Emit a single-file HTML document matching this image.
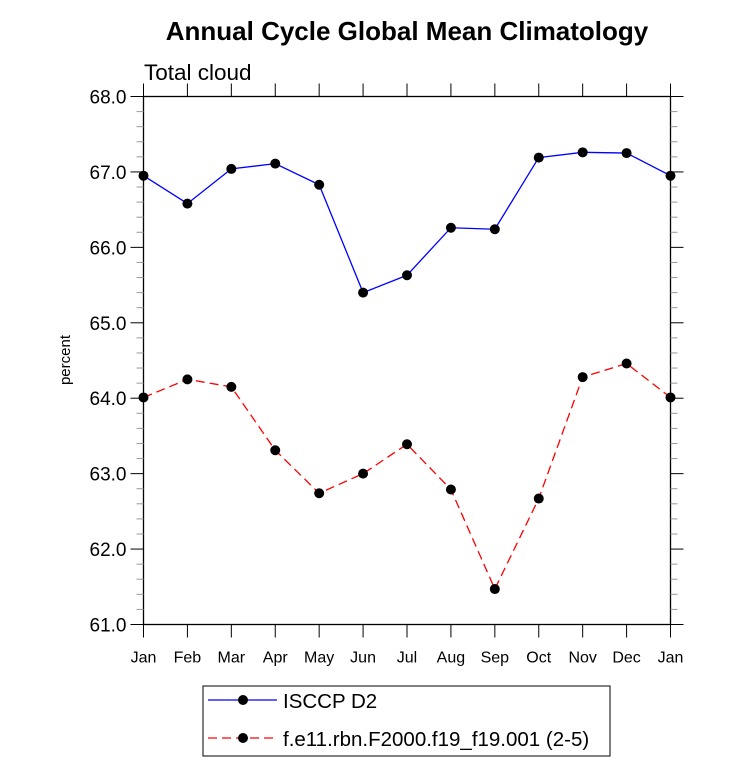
<!DOCTYPE html>
<html><head><style>
body{margin:0;background:#fff;}
svg text{font-family:"Liberation Sans",sans-serif;}
</style></head><body>
<svg id="chart" width="733" height="777" xmlns="http://www.w3.org/2000/svg">
<text x="407" y="40" font-size="26" font-weight="bold" text-anchor="middle">Annual Cycle Global Mean Climatology</text>
<text x="144" y="80" font-size="22.5">Total cloud</text>
<text x="70" y="360" font-size="15" text-anchor="middle" transform="rotate(-90 70 360)">percent</text>
<g id="axes"></g>
<g id="series"></g>
<rect x="203" y="686" width="407" height="70" fill="none" stroke="#000" stroke-width="1"/>
<line x1="208" y1="700" x2="277" y2="700" stroke="#0000ff" stroke-width="1.3"/>
<circle cx="243" cy="700" r="5" fill="#000"/>
<text x="283" y="708" font-size="20.5">ISCCP D2</text>
<line x1="208" y1="738" x2="277" y2="738" stroke="#ff0000" stroke-width="1.3" stroke-dasharray="9,5"/>
<circle cx="243" cy="738" r="5" fill="#000"/>
<text x="283" y="746" font-size="20.5">f.e11.rbn.F2000.f19_f19.001 (2-5)</text>
</svg>
<script>
const months = ["Jan","Feb","Mar","Apr","May","Jun","Jul","Aug","Sep","Oct","Nov","Dec","Jan"];
const isccp = [66.95,66.58,67.04,67.11,66.83,65.40,65.63,66.26,66.24,67.19,67.26,67.25,66.95];
const model = [64.01,64.25,64.15,63.31,62.74,63.00,63.39,62.79,61.47,62.67,64.28,64.46,64.01];
const yTicks = ["61.0","62.0","63.0","64.0","65.0","66.0","67.0","68.0"];

const NS="http://www.w3.org/2000/svg";
const L=143.5,R=670.5,T=96.5,B=624.5,yMin=61,yMax=68;
const xs=i=>L+(R-L)*i/(months.length-1);
const ys=v=>B-(B-T)*(v-yMin)/(yMax-yMin);
function mk(tag,attrs,parent){const e=document.createElementNS(NS,tag);for(const k in attrs)e.setAttribute(k,attrs[k]);parent.appendChild(e);return e;}
const ax=document.getElementById('axes');
const fr=mk('rect',{x:L,y:T,width:R-L,height:B-T,fill:'none',stroke:'#000','stroke-width':1.3},ax);


months.forEach((m,i)=>{
  const x=xs(i);
  mk('line',{x1:x,y1:B,x2:x,y2:B+13,stroke:'#000','stroke-width':1},ax);
  mk('line',{x1:x,y1:T,x2:x,y2:T-13,stroke:'#000','stroke-width':1},ax);
  const t=mk('text',{x:x,y:B+38,'font-size':16,'text-anchor':'middle'},ax);
  t.textContent=m;
  
  
});
for(let v=yMin;v<=yMax+1e-9;v+=0.2){
  const y=ys(v);const major=Math.abs(v-Math.round(v))<1e-6;const len=major?13:7;
  mk('line',{x1:L,y1:y,x2:L-len,y2:y,stroke:major?'#000':'#999','stroke-width':1},ax);
  mk('line',{x1:R,y1:y,x2:R+len,y2:y,stroke:major?'#000':'#999','stroke-width':1},ax);
}
yTicks.forEach(s=>{
  const t=mk('text',{x:L-17,y:ys(parseFloat(s))+7,'font-size':19,'text-anchor':'end'},ax);
  t.textContent=s;
  
  
});
const sg=document.getElementById('series');
function draw(vals,color,dash,name){
  const p=mk('polyline',{points:vals.map((v,i)=>xs(i)+','+ys(v)).join(' '),fill:'none',stroke:color,'stroke-width':1.3,'stroke-dasharray':dash},sg);
  
  
  vals.forEach((v,i)=>{
    const c=mk('circle',{cx:xs(i),cy:ys(v),r:5,fill:'#000'},sg);
    
    
  });
}
draw(isccp,'#0000ff','none','isccp');
draw(model,'#ff0000','9,5','model');
</script>
</body></html>
